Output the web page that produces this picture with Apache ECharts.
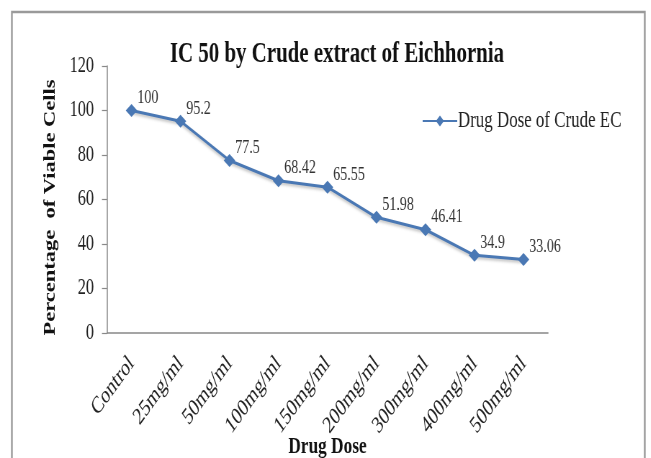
<!DOCTYPE html>
<html>
<head>
<meta charset="utf-8">
<script src="https://cdn.jsdelivr.net/npm/echarts@6/dist/echarts.min.js"></script>
<style>
  html, body { margin: 0; padding: 0; background: #fff; overflow: hidden; }
  #frame { width: 651px; height: 458px; overflow: hidden; }
  /* the chart is laid out wide and then narrowed, giving its condensed lettering */
  #chart { width: 904px; height: 458px; transform: scaleX(0.72); transform-origin: 0 0; }
</style>
</head>
<body>
<div id="frame"><div id="chart"></div></div>
<script>
// Doses tested and the share of cells still viable at each
const doses = ['Control', '25mg/ml', '50mg/ml', '100mg/ml', '150mg/ml', '200mg/ml', '300mg/ml', '400mg/ml', '500mg/ml'];
const viability = [100, 95.2, 77.5, 68.42, 65.55, 51.98, 46.41, 34.9, 33.06];
const yTicks = [0, 20, 40, 60, 80, 100, 120];

const serif = '"Liberation Serif", "Times New Roman", serif';
const lineBlue = '#4a78b4';

const chart = echarts.init(document.getElementById('chart'), null, { renderer: 'canvas' });

chart.setOption({
  backgroundColor: '#fff',
  animation: false,
  graphic: [{
    type: 'rect',
    shape: { x: 16.5, y: 12, width: 879, height: 460 },
    style: { fill: 'none', stroke: '#9a9a9a', lineWidth: 2.4 },
    silent: true
  }],
  title: {
    text: 'IC 50 by Crude extract of Eichhornia',
    left: 463,
    top: 35,
    textAlign: 'center',
    textStyle: { fontFamily: serif, fontSize: 29, fontWeight: 'bold', color: '#111' }
  },
  legend: {
    left: 581,
    top: 104,
    itemWidth: 48,
    itemHeight: 14,
    itemGap: 2,
    textStyle: { fontFamily: serif, fontSize: 23.5, color: '#222', padding: [0, 0, 0, -4] },
    data: ['Drug Dose of Crude EC']
  },
  grid: {
    left: 148.6, top: 66, width: 612.5, height: 267,
    containLabel: false,
    outerBoundsMode: 'none'
  },
  xAxis: {
    type: 'category',
    data: doses,
    boundaryGap: true,
    name: 'Drug Dose',
    nameLocation: 'middle',
    nameGap: 102,
    nameMoveOverlap: false,
    nameTextStyle: { fontFamily: serif, fontSize: 24, fontWeight: 'bold', color: '#111' },
    axisLine: { lineStyle: { color: '#888', width: 1.5 } },
    axisTick: { show: false },
    axisLabel: {
      rotate: 45,
      margin: 27,
      interval: 0,
      fontFamily: serif,
      fontSize: 24,
      color: '#222'
    }
  },
  yAxis: {
    type: 'value',
    min: 0,
    max: 120,
    interval: 20,
    name: 'Percentage  of Viable Cells',
    nameLocation: 'middle',
    nameGap: 67,
    nameTextStyle: {
      fontFamily: serif, fontSize: 22.5, fontWeight: 'bold', color: '#111',
      padding: [0, 16, 0, 0]
    },
    axisLine: { show: true, lineStyle: { color: '#888', width: 1.5 } },
    axisTick: { show: true, length: 7, lineStyle: { color: '#888', width: 1.2 } },
    splitLine: { show: false },
    axisLabel: {
      margin: 18,
      fontFamily: serif,
      fontSize: 22.5,
      color: '#222',
      formatter: v => (yTicks.includes(v) ? String(v) : '')
    }
  },
  series: [{
    name: 'Drug Dose of Crude EC',
    type: 'line',
    data: viability,
    symbol: 'diamond',
    symbolSize: [16, 13],
    itemStyle: { color: lineBlue },
    lineStyle: {
      color: lineBlue,
      width: 3,
      shadowColor: 'rgba(0,0,0,0.25)',
      shadowBlur: 3,
      shadowOffsetY: 2
    },
    label: {
      show: true,
      position: [16, -16],
      fontFamily: serif,
      fontSize: 19.5,
      color: '#333',
      formatter: p => String(p.value)
    }
  }]
});
</script>
</body>
</html>
